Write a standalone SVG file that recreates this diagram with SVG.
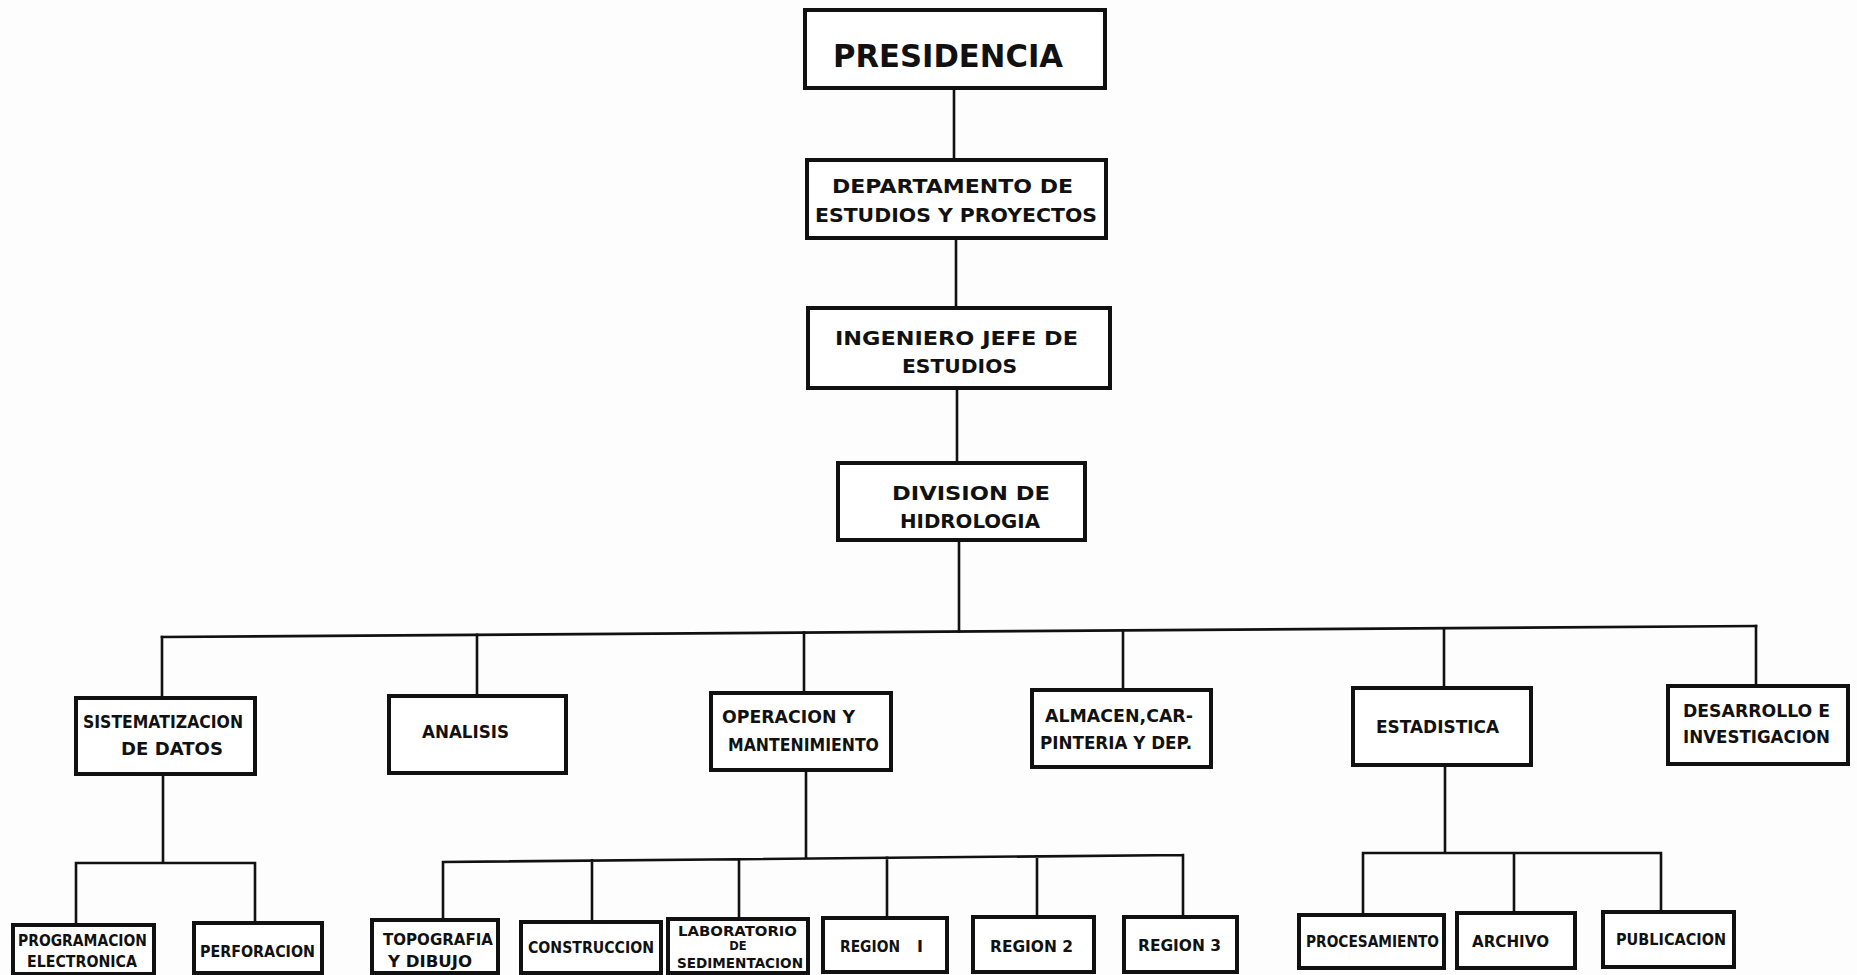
<svg xmlns="http://www.w3.org/2000/svg" width="1857" height="975" viewBox="0 0 1857 975">
<style>
.box{fill:#fff;stroke:#111;stroke-width:4}
.con{fill:none;stroke:#111;stroke-width:2.6;stroke-linecap:square}
text{font-family:"DejaVu Sans","Liberation Sans",Arial,sans-serif;font-weight:bold;fill:#111}
.t1{font-size:32px}
.t2{font-size:20px}
.t3{font-size:17px}
.t4{font-size:16px}
.t5{font-size:14px}
.t6{font-size:11.5px}
</style>
<rect width="1857" height="975" fill="#fdfdfd"/>
<g id="connectors">
<path class="con" d="M954 88V160M956 238V308M957 388V463M959 540V631.5"/>
<path class="con" d="M162 637L1756 626"/>
<path class="con" d="M162 637V698M477 634.8V696M804 632.6V693M1123 630.4V690M1444 628.2V688M1756 626V686"/>
<path class="con" d="M163 774V863M76 863H255M76 863V925M255 863V923"/>
<path class="con" d="M806 770V857.5M443 862L1183 855M443 862V920M592 860.6V922M739 859.2V919M887 857.8V918M1037 856.4V917M1183 855V917"/>
<path class="con" d="M1445 765V853M1363 853H1661M1363 853V915M1514 853V913M1661 853V912"/>
</g>
<g id="presidencia"><rect class="box" x="805" y="10" width="300" height="78"/><text class="t1" x="833" y="67" textLength="230" lengthAdjust="spacingAndGlyphs">PRESIDENCIA</text></g>
<g id="departamento"><rect class="box" x="807" y="160" width="299" height="78"/><text class="t2" x="832" y="193" textLength="241" lengthAdjust="spacingAndGlyphs">DEPARTAMENTO  DE</text><text class="t2" x="815" y="222" textLength="282" lengthAdjust="spacingAndGlyphs">ESTUDIOS Y PROYECTOS</text></g>
<g id="ingeniero"><rect class="box" x="808" y="308" width="302" height="80"/><text class="t2" x="835" y="345" textLength="243" lengthAdjust="spacingAndGlyphs">INGENIERO JEFE  DE</text><text class="t2" x="902" y="373" textLength="115" lengthAdjust="spacingAndGlyphs">ESTUDIOS</text></g>
<g id="division"><rect class="box" x="838" y="463" width="247" height="77"/><text class="t2" x="892" y="500" textLength="158" lengthAdjust="spacingAndGlyphs">DIVISION  DE</text><text class="t2" x="900" y="528" textLength="140" lengthAdjust="spacingAndGlyphs">HIDROLOGIA</text></g>
<g id="sistematizacion"><rect class="box" x="76" y="698" width="179" height="76"/><text class="t3" x="83" y="728" textLength="160" lengthAdjust="spacingAndGlyphs">SISTEMATIZACION</text><text class="t3" x="121" y="755" textLength="102" lengthAdjust="spacingAndGlyphs">DE   DATOS</text></g>
<g id="analisis"><rect class="box" x="389" y="696" width="177" height="77"/><text class="t3" x="422" y="738" textLength="87" lengthAdjust="spacingAndGlyphs">ANALISIS</text></g>
<g id="operacion"><rect class="box" x="711" y="693" width="180" height="77"/><text class="t3" x="722" y="723" textLength="133" lengthAdjust="spacingAndGlyphs">OPERACION   Y</text><text class="t3" x="728" y="751" textLength="151" lengthAdjust="spacingAndGlyphs">MANTENIMIENTO</text></g>
<g id="almacen"><rect class="box" x="1032" y="690" width="179" height="77"/><text class="t3" x="1045" y="722" textLength="148" lengthAdjust="spacingAndGlyphs">ALMACEN,CAR-</text><text class="t3" x="1040" y="749" textLength="152" lengthAdjust="spacingAndGlyphs">PINTERIA Y DEP.</text></g>
<g id="estadistica"><rect class="box" x="1353" y="688" width="178" height="77"/><text class="t3" x="1376" y="733" textLength="123" lengthAdjust="spacingAndGlyphs">ESTADISTICA</text></g>
<g id="desarrollo"><rect class="box" x="1668" y="686" width="180" height="78"/><text class="t3" x="1683" y="717" textLength="147" lengthAdjust="spacingAndGlyphs">DESARROLLO E</text><text class="t3" x="1683" y="743" textLength="147" lengthAdjust="spacingAndGlyphs">INVESTIGACION</text></g>
<g id="programacion"><rect class="box" x="13" y="925" width="141" height="49"/><text class="t4" x="18" y="946" textLength="129" lengthAdjust="spacingAndGlyphs">PROGRAMACION</text><text class="t4" x="27" y="967" textLength="110" lengthAdjust="spacingAndGlyphs">ELECTRONICA</text></g>
<g id="perforacion"><rect class="box" x="194" y="923" width="128" height="50"/><text class="t4" x="200" y="957" textLength="115" lengthAdjust="spacingAndGlyphs">PERFORACION</text></g>
<g id="topografia"><rect class="box" x="372" y="920" width="126" height="53"/><text class="t4" x="383" y="945" textLength="110" lengthAdjust="spacingAndGlyphs">TOPOGRAFIA</text><text class="t4" x="388" y="967" textLength="84" lengthAdjust="spacingAndGlyphs">Y DIBUJO</text></g>
<g id="construccion"><rect class="box" x="521" y="922" width="140" height="51"/><text class="t4" x="528" y="953" textLength="126" lengthAdjust="spacingAndGlyphs">CONSTRUCCION</text></g>
<g id="laboratorio"><rect class="box" x="668" y="919" width="140" height="54"/><text class="t5" x="678" y="936" textLength="119" lengthAdjust="spacingAndGlyphs">LABORATORIO</text><text class="t6" x="738" y="950" text-anchor="middle">DE</text><text class="t5" x="677" y="968" textLength="126" lengthAdjust="spacingAndGlyphs">SEDIMENTACION</text></g>
<g id="region1"><rect class="box" x="823" y="918" width="124" height="54"/><text class="t4" x="840" y="952"><tspan textLength="60" lengthAdjust="spacingAndGlyphs">REGION</tspan><tspan x="917">I</tspan></text></g>
<g id="region2"><rect class="box" x="973" y="917" width="121" height="55"/><text class="t4" x="990" y="952" textLength="83" lengthAdjust="spacingAndGlyphs">REGION  2</text></g>
<g id="region3"><rect class="box" x="1124" y="917" width="113" height="55"/><text class="t4" x="1138" y="951" textLength="83" lengthAdjust="spacingAndGlyphs">REGION  3</text></g>
<g id="procesamiento"><rect class="box" x="1299" y="915" width="145" height="53"/><text class="t4" x="1306" y="947" textLength="133" lengthAdjust="spacingAndGlyphs">PROCESAMIENTO</text></g>
<g id="archivo"><rect class="box" x="1457" y="913" width="118" height="55"/><text class="t4" x="1472" y="947" textLength="77" lengthAdjust="spacingAndGlyphs">ARCHIVO</text></g>
<g id="publicacion"><rect class="box" x="1603" y="912" width="131" height="55"/><text class="t4" x="1616" y="945" textLength="110" lengthAdjust="spacingAndGlyphs">PUBLICACION</text></g>
</svg>
